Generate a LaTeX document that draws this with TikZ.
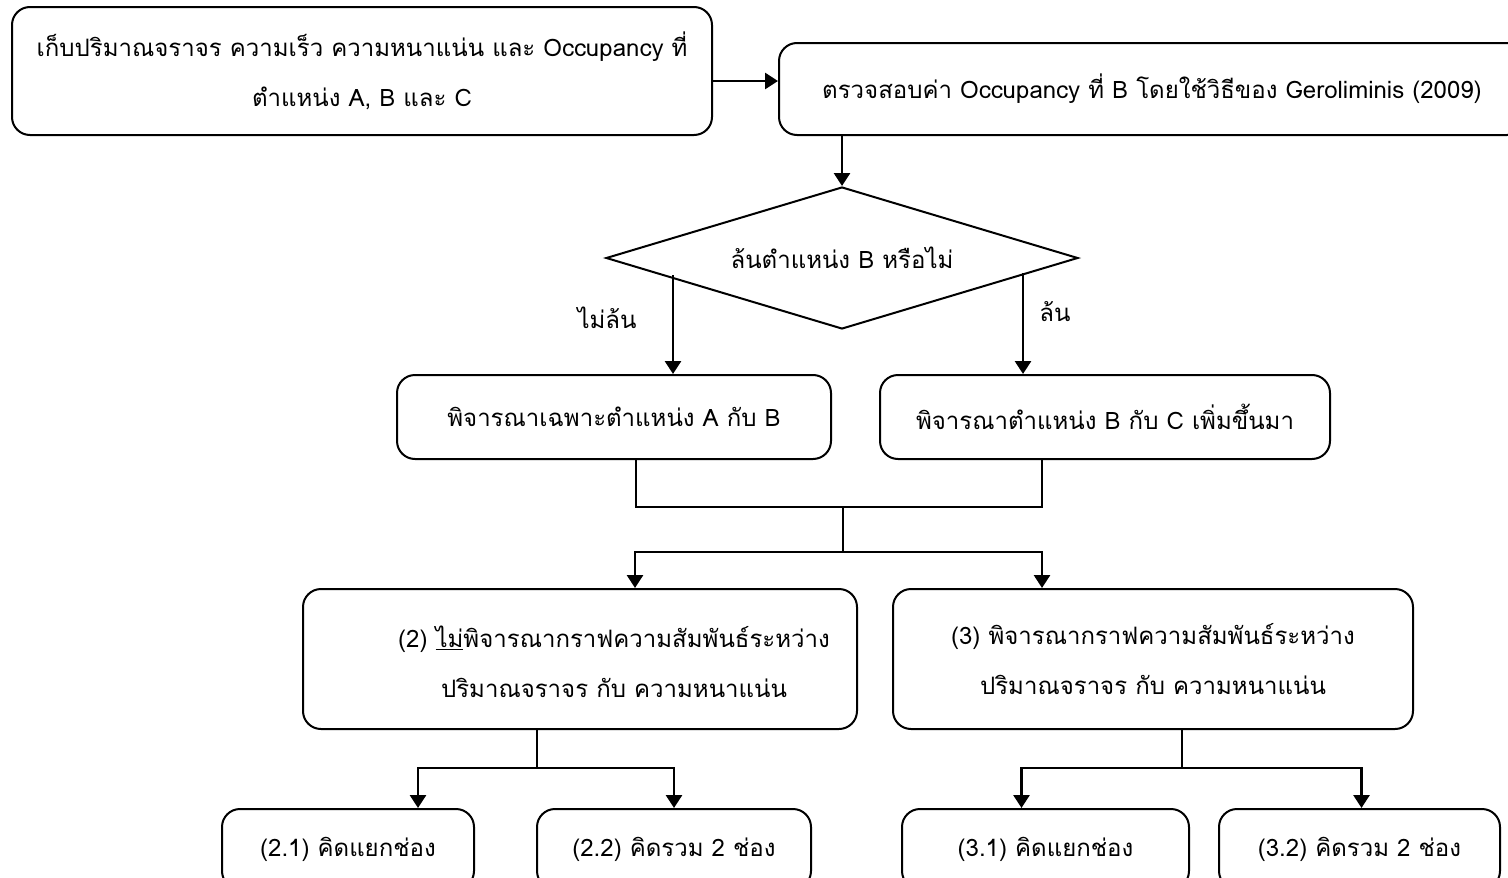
\documentclass[tikz,border=0pt]{standalone}
\usepackage{fontspec}
\setmainfont[Script=Thai]{Loma}
\usetikzlibrary{arrows.meta,shapes.geometric}
\newcommand\flowfont{\fontsize{24}{50}\selectfont}
\begin{document}
\begin{tikzpicture}[x=1pt,y=-1pt,
  box/.style={draw, line width=2pt, rounded corners=18pt, inner sep=0pt,
              align=center, font=\flowfont},
  txt/.style={inner sep=0pt, align=center, font=\flowfont},
  ln/.style={line width=2pt},
  arr/.style={line width=2.8pt, -{Triangle[length=13pt,width=16pt]}}]
\useasboundingbox (0,0) rectangle (1508,878);

% top row
\node[box, minimum width=700pt, minimum height=128pt] (b1) at (362,71)
  {เก็บปริมาณจราจร ความเร็ว ความหนาแน่น และ Occupancy ที่\\ตำแหน่ง A, B และ C};
\node[box, minimum width=746pt, minimum height=92pt] (b2) at (1152,89)
  {ตรวจสอบค่า Occupancy ที่ B โดยใช้วิธีของ Geroliminis (2009)};
\draw[arr] ([yshift=-10pt]b1.east) -- ([yshift=-10pt]b1.east -| b2.west);

% decision
\node[diamond, draw, line width=2pt, minimum width=472pt, minimum height=142pt,
      inner sep=0pt, aspect=3.3, font=\flowfont] (d) at (842,258) {ล้นตำแหน่ง B หรือไม่};
\draw[arr] (d.north |- b2.south) -- (d.north);

% branches
\node[box, minimum width=434pt, minimum height=84pt] (m1) at (614,417)
  {พิจารณาเฉพาะตำแหน่ง A กับ B};
\node[box, minimum width=450pt, minimum height=84pt] (m2) at (1105,417)
  {พิจารณาตำแหน่ง B กับ C เพิ่มขึ้นมา};
\coordinate (dl) at (673,275);
\coordinate (dr) at (1023,273);
\draw[arr] (dl) -- (dl |- m1.north);
\draw[arr] (dr) -- (dr |- m2.north);
\node[txt] (no) at (607,318) {ไม่ล้น};
\node[txt] (yes) at (1055,312) {ล้น};

% merge
\node[box, minimum width=554pt, minimum height=140pt] (c2) at (580,659) {};
\node[txt] (c2t) at (614,662)
  {(2) \underline{ไม่}พิจารณากราฟความสัมพันธ์ระหว่าง\\ปริมาณจราจร กับ ความหนาแน่น};
\node[box, minimum width=520pt, minimum height=140pt] (c3) at (1153,659)
  {(3) พิจารณากราฟความสัมพันธ์ระหว่าง\\ปริมาณจราจร กับ ความหนาแน่น};
\coordinate (j1) at (843,507);
\coordinate (j2) at (843,552);
\draw[ln] ([xshift=22pt]m1.south) |- (j1) -| ([xshift=-63pt]m2.south);
\draw[ln] (j1) -- (j2);
\draw[arr] (j2) -| ([xshift=55pt]c2.north);
\draw[arr] (j2) -| ([xshift=-111pt]c3.north);

% bottom row
\node[box, minimum width=252pt, minimum height=80pt] (b21) at (348,849) {(2.1) คิดแยกช่อง};
\node[box, minimum width=274pt, minimum height=80pt] (b22) at (674,849) {(2.2) คิดรวม 2 ช่อง};
\node[box, minimum width=287pt, minimum height=80pt] (b31) at (1045.5,849) {(3.1) คิดแยกช่อง};
\node[box, minimum width=281pt, minimum height=80pt] (b32) at (1359.5,849) {(3.2) คิดรวม 2 ช่อง};

\coordinate (k2) at (537,768);
\coordinate (k3) at (1182,768);
\draw[ln] (k2 |- c2.south) -- (k2);
\draw[ln] (k3 |- c3.south) -- (k3);
\draw[arr] (k2) -| ([xshift=70pt]b21.north);
\draw[arr] (k2) -| (b22.north);
\draw[arr] (k3) -| ([xshift=-24pt]b31.north);
\draw[arr] (k3) -| ([xshift=2pt]b32.north);
\end{tikzpicture}
\end{document}
